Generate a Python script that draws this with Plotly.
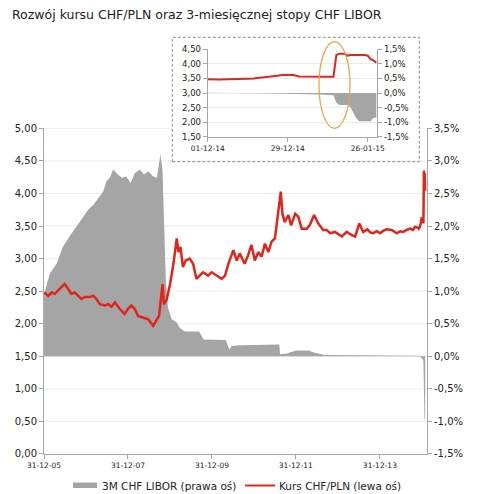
import plotly.graph_objects as go

# --- data: Kurs CHF/PLN (left axis) ---
chf_dates = [
    "2006-01-01", "2006-02-06", "2006-03-08", "2006-04-05", "2006-05-01", "2006-05-30",
    "2006-06-28", "2006-07-27", "2006-08-25", "2006-09-24", "2006-10-23", "2006-11-22",
    "2006-12-20", "2007-02-03", "2007-03-05", "2007-04-02", "2007-05-01", "2007-06-14",
    "2007-07-13", "2007-08-11", "2007-09-09", "2007-10-20", "2007-12-02", "2008-01-01",
    "2008-01-30", "2008-02-28", "2008-03-28", "2008-05-11", "2008-06-24", "2008-08-07",
    "2008-09-06", "2008-09-27", "2008-10-27", "2008-11-08", "2008-12-01", "2009-01-01",
    "2009-01-30", "2009-02-28", "2009-03-15", "2009-04-01", "2009-04-23", "2009-05-15",
    "2009-06-20", "2009-07-20", "2009-08-18", "2009-10-15", "2009-11-28", "2009-12-28",
    "2010-02-10", "2010-03-26", "2010-04-24", "2010-05-23", "2010-07-05", "2010-08-04",
    "2010-08-30", "2010-10-12", "2010-11-10", "2010-12-10", "2011-01-08", "2011-02-07",
    "2011-03-08", "2011-04-06", "2011-05-05", "2011-06-03", "2011-07-02", "2011-07-20",
    "2011-08-22", "2011-09-05", "2011-09-25", "2011-10-27", "2011-11-20", "2011-12-25",
    "2012-01-22", "2012-02-20", "2012-04-05", "2012-05-01", "2012-06-07", "2012-07-13",
    "2012-08-25", "2012-09-24", "2012-10-23", "2012-12-05", "2013-01-10", "2013-02-03",
    "2013-03-18", "2013-04-10", "2013-05-01", "2013-05-30", "2013-07-05", "2013-08-08",
    "2013-09-13", "2013-10-10", "2013-11-03", "2013-12-05", "2014-01-01", "2014-02-01",
    "2014-02-28", "2014-04-12", "2014-05-27", "2014-06-25", "2014-07-23", "2014-08-20",
    "2014-09-20", "2014-10-15", "2014-11-03",
]
chf_pln = [
    2.48, 2.43, 2.48, 2.46, 2.51, 2.56,
    2.61, 2.54, 2.46, 2.48, 2.43, 2.38,
    2.41, 2.41, 2.43, 2.38, 2.30, 2.28,
    2.30, 2.26, 2.33, 2.23, 2.15, 2.23,
    2.28, 2.23, 2.12, 2.10, 2.07, 1.97,
    2.07, 2.12, 2.61, 2.30, 2.36, 2.61,
    2.92, 3.31, 3.10, 3.18, 2.87, 2.97,
    3.00, 2.92, 2.69, 2.79, 2.74, 2.79,
    2.74, 2.69, 2.74, 2.92, 3.13, 2.97,
    3.08, 2.92, 3.05, 3.21, 2.97, 3.10,
    3.03, 3.23, 3.10, 3.26, 3.31, 3.54,
    4.03, 3.69, 3.56, 3.67, 3.51, 3.69,
    3.64, 3.46, 3.46, 3.52, 3.67, 3.54,
    3.44, 3.44, 3.39, 3.41, 3.37, 3.34,
    3.41, 3.38, 3.36, 3.34, 3.54, 3.41,
    3.45, 3.40, 3.39, 3.42, 3.39, 3.43,
    3.45, 3.44, 3.39, 3.42, 3.41, 3.44,
    3.46, 3.44, 3.49,
]

# --- data: 3M CHF LIBOR (right axis, %) ---
libor_dates = [
    "2006-01-01", "2006-02-20", "2006-04-20", "2006-06-13", "2006-08-10", "2006-10-08",
    "2006-12-05", "2007-01-19", "2007-03-03", "2007-04-16", "2007-05-30", "2007-06-28",
    "2007-07-27", "2007-08-25", "2007-09-24", "2007-11-07", "2007-12-17", "2008-01-23",
    "2008-02-28", "2008-04-13", "2008-05-19", "2008-06-24", "2008-08-07", "2008-09-09",
    "2008-10-08", "2008-10-27", "2008-11-07", "2008-11-25", "2008-12-13", "2009-01-15",
    "2009-02-28", "2009-03-25", "2009-05-10", "2009-09-10", "2009-10-20", "2010-04-01",
    "2010-05-01", "2010-06-01", "2010-06-20", "2010-08-30", "2011-07-10", "2011-08-10",
    "2011-08-15", "2011-10-08", "2012-01-01", "2012-04-20", "2012-06-05", "2012-09-10",
    "2012-10-20", "2014-09-10",
]
libor = [
    0.96, 1.27, 1.42, 1.68, 1.84, 1.99,
    2.14, 2.25, 2.32, 2.43, 2.53, 2.69,
    2.74, 2.87, 2.81, 2.74, 2.76, 2.66,
    2.81, 2.87, 2.79, 2.84, 2.76, 2.74,
    3.10, 2.87, 2.04, 1.16, 0.75, 0.57,
    0.52, 0.44, 0.38, 0.38, 0.26, 0.25,
    0.25, 0.10, 0.16, 0.17, 0.18, 0.18,
    0.03, 0.04, 0.09, 0.09, 0.06, 0.02,
    0.02, 0.01,
]

# --- data: inset, 01-12-14 .. 29-01-15 ---
inset_chf_dates = [
    "2014-12-01", "2014-12-03", "2014-12-05", "2014-12-08", "2014-12-10", "2014-12-12",
    "2014-12-15", "2014-12-17", "2014-12-19", "2014-12-22", "2014-12-24", "2014-12-26",
    "2014-12-27", "2014-12-29", "2014-12-31", "2015-01-02", "2015-01-05", "2015-01-07",
    "2015-01-09", "2015-01-12", "2015-01-14", "2015-01-15", "2015-01-16", "2015-01-18",
    "2015-01-19", "2015-01-20", "2015-01-25", "2015-01-26", "2015-01-27", "2015-01-28",
    "2015-01-29",
]
inset_chf = [
    3.47, 3.46, 3.46, 3.47, 3.47, 3.48,
    3.49, 3.50, 3.52, 3.54, 3.56, 3.60,
    3.62, 3.63, 3.62, 3.57, 3.56, 3.57,
    3.57, 3.56, 3.56, 4.30, 4.35, 4.35,
    4.28, 4.30, 4.30, 4.28, 4.16, 4.12,
    4.04,
]
inset_libor_dates = [
    "2014-12-01", "2014-12-17", "2014-12-18", "2014-12-24", "2015-01-02", "2015-01-09",
    "2015-01-14", "2015-01-15", "2015-01-16", "2015-01-19", "2015-01-20", "2015-01-21",
    "2015-01-22", "2015-01-23", "2015-01-27", "2015-01-28", "2015-01-29",
]
inset_libor = [
    0.01, 0.01, -0.01, -0.02, -0.03, -0.05,
    -0.08, -0.33, -0.41, -0.41, -0.50, -0.67,
    -0.87, -0.97, -0.97, -0.85, -0.85,
]

# --- tick labels ---
main_xticks = ["2005-12-31", "2007-12-31", "2009-12-31", "2011-12-31", "2013-12-31"]
main_xtext = ["31-12-05", "31-12-07", "31-12-09", "31-12-11", "31-12-13"]
left_ticks = [0, 0.5, 1, 1.5, 2, 2.5, 3, 3.5, 4, 4.5, 5]
left_text = ["0,00", "0,50", "1,00", "1,50", "2,00", "2,50", "3,00", "3,50", "4,00", "4,50", "5,00"]
right_ticks = [-1.5, -1, -0.5, 0, 0.5, 1, 1.5, 2, 2.5, 3, 3.5]
right_text = ["-1,5%", "-1,0%", "-0,5%", "0,0%", "0,5%", "1,0%", "1,5%", "2,0%", "2,5%", "3,0%", "3,5%"]
inset_xticks = ["2014-12-01", "2014-12-29", "2015-01-26"]
inset_xtext = ["01-12-14", "29-12-14", "26-01-15"]
inset_left_ticks = [1.5, 2, 2.5, 3, 3.5, 4, 4.5]
inset_left_text = ["1,50", "2,00", "2,50", "3,00", "3,50", "4,00", "4,50"]
inset_right_ticks = [-1.5, -1, -0.5, 0, 0.5, 1, 1.5]
inset_right_text = ["-1,5%", "-1,0%", "-0,5%", "0,0%", "0,5%", "1,0%", "1,5%"]

LIBOR_NAME = "3M CHF LIBOR (prawa oś)"
CHF_NAME = "Kurs CHF/PLN (lewa oś)"

GRAY = "#a5a5a5"
RED = "#e1251b"
AXIS = "#a6a6a6"
GRID = "#ececec"
TXT = "#222222"
FONT = "DejaVu Sans"

# the page body adds an 8px offset, so the figure is 8px smaller than the window
W, H = 473, 486


# plot area (window pixels): x 44..427, y 30..454
def px(x):
    return (x - 44) / 383


def py(y):
    return (454 - y) / 424


# inset frame position (paper coords)
FRAME_X = (0.335, 0.98)
FRAME_Y = (0.6894, 0.9828)

fig = go.Figure()

# main chart: LIBOR area on y (right side), CHF/PLN on y2 (left side, drawn on top)
fig.add_trace(go.Scatter(
    x=libor_dates + inset_libor_dates[1:], y=libor + inset_libor[1:],
    mode="lines", fill="tozeroy", fillcolor=GRAY, line=dict(width=0, color=GRAY),
    name=LIBOR_NAME, xaxis="x", yaxis="y",
))
fig.add_trace(go.Scatter(
    x=chf_dates + inset_chf_dates, y=chf_pln + inset_chf,
    mode="lines", line=dict(width=2.5, color=RED),
    name=CHF_NAME, xaxis="x", yaxis="y2",
))

# inset chart
fig.add_trace(go.Scatter(
    x=inset_libor_dates, y=inset_libor, mode="lines", fill="tozeroy",
    fillcolor=GRAY, line=dict(width=0, color=GRAY), xaxis="x2", yaxis="y3",
))
fig.add_trace(go.Scatter(
    x=inset_chf_dates, y=inset_chf, mode="lines", line=dict(width=2, color=RED),
    xaxis="x2", yaxis="y4",
))

axis_common = dict(showline=True, linecolor=AXIS, linewidth=1, ticks="outside",
                   ticklen=4, tickcolor=AXIS, zeroline=False, fixedrange=True)

# main gridlines as shapes, so the one at the top stops at the inset frame
shapes = []
for v in right_ticks[1:]:
    if v == right_ticks[-1]:
        segments = [(0, FRAME_X[0]), (FRAME_X[1], 1)]
    else:
        segments = [(0, 1)]
    for a, b in segments:
        shapes.append(dict(type="line", xref="x domain", yref="y", x0=a, x1=b, y0=v, y1=v,
                           line=dict(color=GRID, width=1), layer="below"))

shapes += [
    # dashed inset frame
    dict(type="rect", xref="paper", yref="paper",
         x0=FRAME_X[0], x1=FRAME_X[1], y0=FRAME_Y[0], y1=FRAME_Y[1],
         line=dict(color="#8a8a8a", width=1, dash="3px,2px"), layer="above"),
    # orange ellipse marking the jump
    dict(type="circle", xref="paper", yref="paper",
         x0=0.718, x1=0.799, y0=0.768, y1=0.9726,
         line=dict(color="#eda13a", width=1.2), layer="above"),
    # legend symbols
    dict(type="rect", xref="paper", yref="paper",
         x0=px(73), x1=px(97), y0=py(488), y1=py(482.5),
         fillcolor=GRAY, line=dict(width=0)),
    dict(type="line", xref="paper", yref="paper",
         x0=px(245), x1=px(275), y0=py(485.5), y1=py(485.5),
         line=dict(color=RED, width=2)),
]

annotations = [
    dict(text=LIBOR_NAME, xref="paper", yref="paper", x=px(100), y=py(485.5),
         xanchor="left", yanchor="middle", showarrow=False,
         font=dict(family=FONT, size=10.5, color=TXT)),
    dict(text=CHF_NAME, xref="paper", yref="paper", x=px(277), y=py(485.5),
         xanchor="left", yanchor="middle", showarrow=False,
         font=dict(family=FONT, size=10.5, color=TXT)),
]

fig.update_layout(
    width=W, height=H,
    template="none",
    paper_bgcolor="white", plot_bgcolor="rgba(0,0,0,0)",
    margin=dict(l=36, r=54, t=22, b=40, autoexpand=False),
    font=dict(family=FONT, size=10, color=TXT),
    title=dict(text="Rozwój kursu CHF/PLN oraz 3-miesięcznej stopy CHF LIBOR",
               x=4 / W, xref="container", xanchor="left",
               y=1 - 2 / H, yref="container", yanchor="top",
               pad=dict(t=0, b=0, l=0, r=0),
               font=dict(family=FONT, size=12.5, color=TXT)),
    xaxis=dict(domain=[0, 1], anchor="y", type="date",
               range=["2005-12-31", "2015-02-14"],
               tickvals=main_xticks, ticktext=main_xtext,
               tickfont=dict(size=7.5), showgrid=False, **axis_common),
    yaxis=dict(domain=[0, 0.768], anchor="x", side="right", range=[-1.5, 3.5],
               tickvals=right_ticks, ticktext=right_text, showgrid=False, **axis_common),
    yaxis2=dict(overlaying="y", anchor="x", side="left", range=[0, 5],
                tickvals=left_ticks, ticktext=left_text, showgrid=False, **axis_common),
    xaxis2=dict(domain=[0.4274, 0.8702], anchor="y3", type="date",
                range=["2014-12-01", "2015-01-29 08:00"],
                tickvals=inset_xticks, ticktext=inset_xtext,
                tickfont=dict(size=7.5), showgrid=False, **axis_common),
    yaxis3=dict(domain=[0.7483, 0.9545], anchor="x2", side="right", range=[-1.5, 1.5],
                tickvals=inset_right_ticks, ticktext=inset_right_text,
                tickfont=dict(size=8.5), showgrid=True, gridcolor=GRID, **axis_common),
    yaxis4=dict(overlaying="y3", anchor="x2", side="left", range=[1.5, 4.5],
                tickvals=inset_left_ticks, ticktext=inset_left_text,
                tickfont=dict(size=8.5), showgrid=False, **axis_common),
    showlegend=False,
    shapes=shapes,
    annotations=annotations,
)

fig.write_html("out.html")
